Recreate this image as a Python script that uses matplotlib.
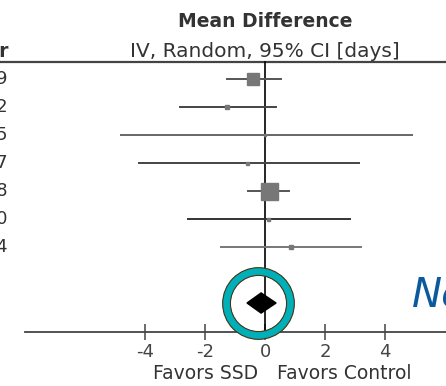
import matplotlib.pyplot as plt
from matplotlib.patches import Polygon

# study rows (mean difference, 95% CI, days)
years = ['2009', '2012', '2015', '2017', '2018', '2020', '2014']
md = [-0.4, -1.27, 0.0, -0.6, 0.13, 0.1, 0.87]
ci_lo = [-1.27, -2.83, -4.8, -4.2, -0.57, -2.57, -1.47]
ci_hi = [0.53, 0.37, 4.9, 3.13, 0.8, 2.83, 3.2]
weights = [12, 4, 2, 3, 17, 3, 4]   # square size ~ weight
line_cols = ['#555555', '#444444', '#666666', '#444444', '#555555', '#333333', '#777777']

# pooled estimate
pooled = -0.13
pooled_lo = -0.6
pooled_hi = 0.37
highlight_x = -0.25

xticks = [-4, -2, 0, 2, 4]

fig = plt.figure(figsize=(4.46, 3.86), dpi=100)
ax = fig.add_axes([0, 0, 1, 1])
ax.set_xlim(-8.833, 6.033)
ax.set_ylim(10.964, -2.821)
ax.patch.set_visible(False)

for s in ['top', 'left', 'right']:
    ax.spines[s].set_visible(False)
ax.spines['bottom'].set_position(('data', 9.04))
ax.spines['bottom'].set_bounds(-8.0, 6.033)
ax.spines['bottom'].set_linewidth(1.3)
ax.spines['bottom'].set_color('#444444')
ax.set_yticks([])
ax.set_xticks(xticks)
ax.set_xticklabels([str(t) for t in xticks])
ax.tick_params(axis='x', direction='inout', length=12, width=1.1,
               colors='#444444', labelsize=13, pad=2)

# header
ax.text(0, -2.05, 'Mean Difference', ha='center', va='center',
        fontsize=13.5, fontweight='bold', color='#333333')
ax.text(0, -0.98, 'IV, Random, 95% CI [days]', ha='center', va='center',
        fontsize=14.5, color='#333333')
ax.text(-8.55, -0.98, 'Year', ha='right', va='center',
        fontsize=13.5, fontweight='bold', color='#333333')
ax.axhline(-0.607, color='#444444', lw=1.6)

# vertical line of no effect
ax.plot([0, 0], [-0.607, 9.04], color='black', lw=1.2, zorder=2)

for i in range(len(md)):
    ax.text(-8.55, i, years[i], ha='right', va='center', fontsize=13, color='#333333')
    ax.plot([ci_lo[i], ci_hi[i]], [i, i], color=line_cols[i], lw=1.4, zorder=3)
    ax.plot(md[i], i, 's', ms=weights[i] * 0.72, color='#777777', zorder=4)

# pooled diamond
yd = 8
h = 0.36
ax.add_patch(Polygon([[pooled_lo, yd], [pooled, yd - h], [pooled_hi, yd], [pooled, yd + h]],
                     closed=True, color='black', zorder=5))

# highlight ring
ax.plot(highlight_x, yd, 'o', ms=46, mfc='none', mec='#00B0B9', mew=5.8, zorder=6)
ax.plot(highlight_x, yd, 'o', ms=51.6, mfc='none', mec='#4a3418', mew=0.8, zorder=7)
ax.plot(highlight_x, yd, 'o', ms=40.4, mfc='none', mec='#4a3418', mew=0.8, zorder=7)

# bottom labels
ax.text(-0.23, 10.5, 'Favors SSD', ha='right', va='center', fontsize=13.5, color='#333333')
ax.text(0.4, 10.5, 'Favors Control', ha='left', va='center', fontsize=13.5, color='#333333')

ax.text(4.9, 7.72, 'Neutral', ha='left', va='center', fontsize=29,
        style='italic', color='#0B5A9E')

fig.savefig('out.png', dpi=100)
